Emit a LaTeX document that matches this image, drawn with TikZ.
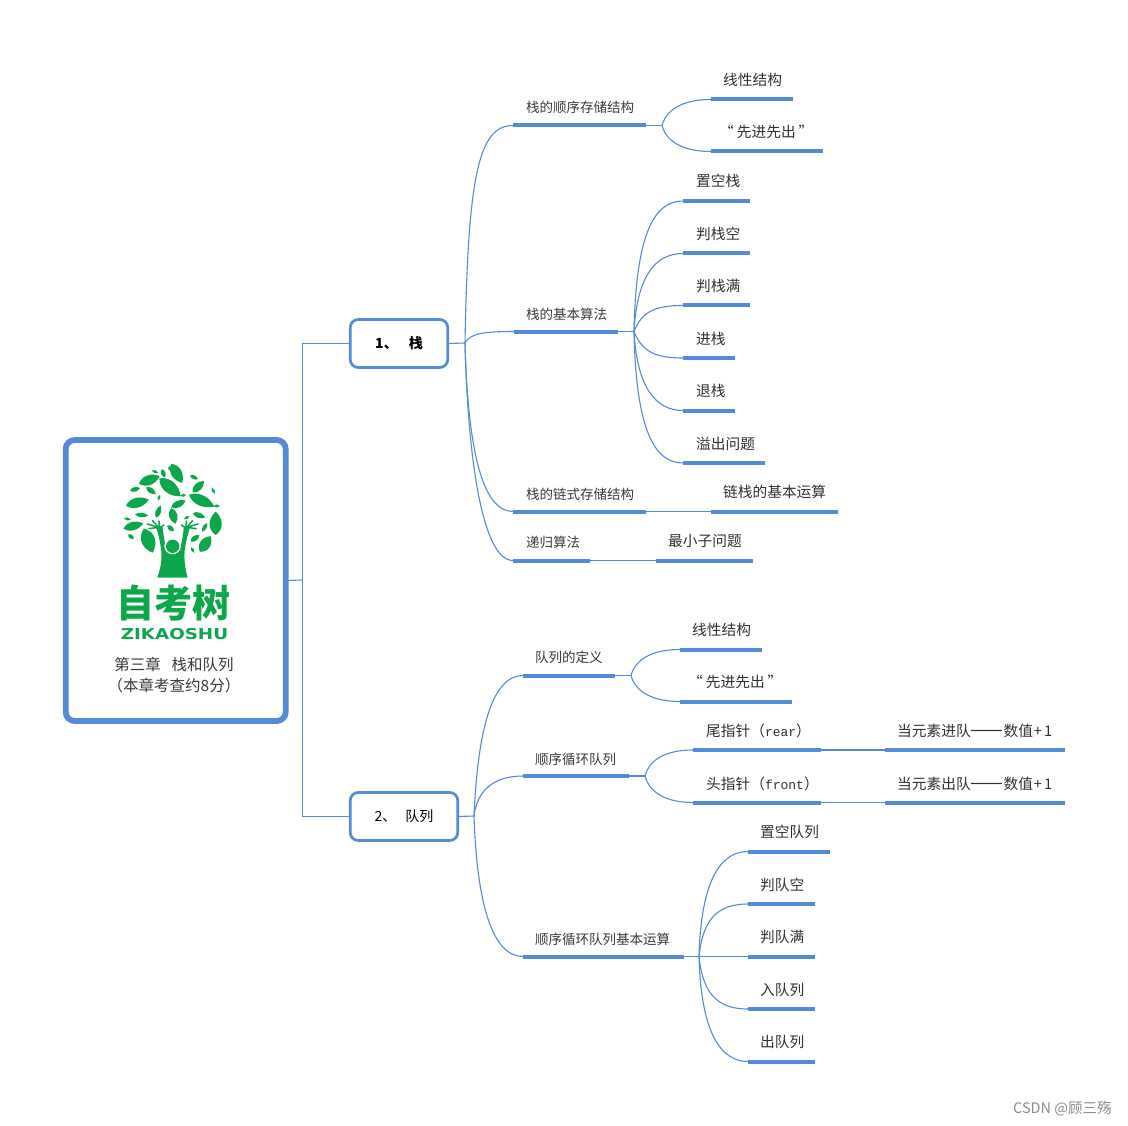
\documentclass[tikz,border=0pt]{standalone}
\usepackage{fontspec}
\setmainfont{Noto Sans CJK SC}
\newfontfamily\latmono{Liberation Mono}
\newfontfamily\logolat{DejaVu Sans}
\definecolor{mapblue}{HTML}{558BD6}
\definecolor{logogreen}{HTML}{0BA74A}
\definecolor{txt}{HTML}{3A3A3A}
\tikzset{
  rootbox/.style={draw=mapblue,line width=5.8pt,rounded corners=9pt,fill=white,inner sep=0pt,outer sep=0pt,minimum width=220pt,minimum height=281pt},
  mainbox/.style={draw=mapblue,line width=2.7pt,rounded corners=8pt,fill=white,inner sep=0pt,outer sep=0pt,minimum height=48pt,text=black,font=\fontsize{14}{16}\selectfont},
  barnode/.style={fill=mapblue,inner sep=0pt,outer sep=0pt,minimum height=4pt},
  lblA/.style={anchor=west,inner sep=0pt,text=txt,font=\fontsize{13.5}{16}\selectfont},
  lblB/.style={anchor=west,inner sep=0pt,text=txt!85!black,font=\fontsize{14.7}{17}\selectfont},
  link/.style={draw=mapblue,line width=1.1pt},
  leaffill/.style={fill=logogreen,draw=none}
}
\newcommand{\topicA}[7]{%
  \pgfmathsetmacro{\barw}{#3-#2}%
  \node[barnode,minimum width=\barw pt] (#1) at ({(#2+#3)/2},#4) {};%
  \node[lblA] (#1t) at (#5,#6) {#7};}
\newcommand{\topicB}[7]{%
  \pgfmathsetmacro{\barw}{#3-#2}%
  \node[barnode,minimum width=\barw pt] (#1) at ({(#2+#3)/2},#4) {};%
  \node[lblB] (#1t) at (#5,#6) {#7};}
\newcommand{\leaf}[5]{%
  \fill[leaffill,shift={(#1,#2)},rotate=#5]
    ({-1.1*#3},0) .. controls ({-0.5*#3},{1.7*#4}) and ({0.5*#3},{1.35*#4}) .. ({1.1*#3},0)
    .. controls ({0.5*#3},{-1.35*#4}) and ({-0.5*#3},{-1.7*#4}) .. ({-1.1*#3},0) -- cycle;}
\newcommand{\longdash}{{\fontsize{19.6}{17}\selectfont ——}}
\newcommand{\plusone}{\hspace{1pt}+\hspace{2pt}1}
\begin{document}
\begin{tikzpicture}[x=1pt,y=-1pt]
\useasboundingbox (0,0) rectangle (1128,1126);
\fill[white] (0,0) rectangle (1128,1126);

% main boxes
\node[rootbox] (root) at (175.7,580.5) {};
\node[mainbox,minimum width=97.5pt] (one) at (399,343.5) {\textbf{1、\hspace{11pt}栈}};
\node[mainbox,minimum width=107.5pt] (two) at (404,816.5) {2、\hspace{9pt}队列};
\coordinate (rootj) at (302.5,580);
\draw[link] (one.west) -| (rootj) |- (two.west);
\draw[link] (root.east) -- (rootj);

% logo
\begin{scope}[shift={(50,430)},x=0.3333pt,y=-0.3333pt]
\foreach \a/\b/\c/\d/\e in {
 380/130/30/14/-60, 298/150/30/13/20, 315/125/10/4/-20, 340/130/12/6/-70, 358/115/7/3/-90,
 432/142/12/5/-25, 445/170/22/10/45, 490/182/10/4/-60, 255/178/14/6/15, 303/182/16/7/-35,
 360/172/38/16/-40, 400/196/8/4/10, 327/203/8/4/70, 262/218/32/13/15, 455/212/38/14/-25,
 385/222/22/9/25, 500/228/9/4/0, 325/245/18/7/70, 370/258/22/11/-75, 447/256/18/7/-20,
 410/263/9/4/30, 275/255/18/6/-5, 232/267/10/4/-10, 497/280/32/16/90, 250/288/28/11/15,
 362/295/12/6/-40, 464/292/14/5/60, 243/320/10/5/-40, 295/332/35/18/-70, 435/325/15/7/35,
 466/342/26/14/55, 428/360/9/4/-60}{\leaf{\a}{\b}{\c}{\d}{\e}}
\fill[leaffill] (322,443) .. controls (333,410) and (338,385) .. (332,350)
  .. controls (329,330) and (325,310) .. (318,292) -- (337,288)
  .. controls (340,310) and (343,335) .. (348,350) -- (392,350)
  .. controls (396,335) and (400,310) .. (402,288) -- (420,292)
  .. controls (413,315) and (408,335) .. (404,360)
  .. controls (402,390) and (405,415) .. (413,443) -- cycle;
\fill[white] (368,348) circle (25);
\fill[leaffill] (368,349) circle (20);
\foreach \sx/\sy/\tx/\ty in {325/292/292/282, 325/292/297/296, 325/292/308/272, 328/292/327/273, 328/295/342/285,
  411/292/444/282, 411/292/439/296, 411/292/428/272, 408/292/409/273, 408/295/394/285}
  {\draw[logogreen,line width=1.5pt,line cap=round] (\sx,\sy) -- (\tx,\ty);}
\end{scope}
\node[inner sep=0pt,text=logogreen,font=\fontsize{38}{40}\selectfont\bfseries] (logocn) at (173.7,603.5) {自考树};
\node[inner sep=0pt,text=logogreen,font=\fontsize{15}{18}\logolat\bfseries,xscale=1.22,transform shape] (logoen) at (174.5,634.5) {ZIKAOSHU};
\node[inner sep=0pt,text=txt,font=\fontsize{15.5}{18}\selectfont] (roota) at (174,664.5) {第三章\hspace{11pt}栈和队列};
\node[inner sep=0pt,text=txt,font=\fontsize{15.5}{18}\selectfont] (rootb) at (174,685.5) {（本章考查约8分）};

% stack branch
\coordinate (oj) at (465,343);
\draw[link] (one.east) -- (oj);
\topicA{sa}{513}{646}{125.5}{526}{107}{栈的顺序存储结构}
\topicA{sb}{514}{618}{331.5}{526}{314}{栈的基本算法}
\topicA{sc}{513}{646}{511.5}{526}{494}{栈的链式存储结构}
\topicA{sd}{513}{590}{560.5}{526}{542}{递归算法}
\draw[link] (oj) .. controls +(3,-165) and +(-35,0) .. (sa.west);
\draw[link] (oj) .. controls +(5,-10) and +(-28,0) .. (sb.west);
\draw[link] (oj) .. controls +(3,110) and +(-30,0) .. (sc.west);
\draw[link] (oj) .. controls +(3,120) and +(-30,0) .. (sd.west);

\coordinate (saj) at (662,125.5);
\draw[link] (sa.east) -- (saj);
\topicB{saa}{711}{793}{99.5}{723}{80}{线性结构}
\topicB{sab}{711}{823}{151.5}{719}{132}{“\hspace{3pt}先进先出\hspace{3pt}”}
\draw[link] (saj) .. controls +(5,-18) and +(-25,0) .. (saa.west);
\draw[link] (saj) .. controls +(5,18) and +(-25,0) .. (sab.west);

\coordinate (sbj) at (634,331.5);
\draw[link] (sb.east) -- (sbj);
\topicB{sba}{683}{750}{201}{696}{181}{置空栈}
\topicB{sbb}{683}{750}{253.5}{696}{234}{判栈空}
\topicB{sbc}{683}{750}{305.5}{696}{286}{判栈满}
\topicB{sbd}{683}{735}{358}{696}{339}{进栈}
\topicB{sbe}{683}{735}{410.5}{696}{391}{退栈}
\topicB{sbf}{683}{765}{463}{696}{444}{溢出问题}
\foreach \n/\px/\cy in {sba/2/-100,sbb/3/-55,sbc/8/-20,sbd/8/20,sbe/3/55,sbf/2/100}
  {\draw[link] (sbj) .. controls +(\px,\cy) and +(-28,0) .. (\n.west);}

\topicB{sca}{711}{838}{511.5}{723}{492}{链栈的基本运算}
\draw[link] (sc.east) -- (sca.west);
\topicB{sda}{656}{753}{560.5}{668}{541}{最小子问题}
\draw[link] (sd.east) -- (sda.west);

% queue branch
\coordinate (tj) at (474,816);
\draw[link] (two.east) -- (tj);
\topicA{qa}{523}{615}{675.5}{535}{657}{队列的定义}
\topicA{qb}{523}{629}{776}{535}{759}{顺序循环队列}
\topicA{qc}{523}{684}{956.5}{535}{939}{顺序循环队列基本运算}
\draw[link] (tj) .. controls +(4,-90) and +(-30,0) .. (qa.west);
\draw[link] (tj) .. controls +(3,-25) and +(-30,0) .. (qb.west);
\draw[link] (tj) .. controls +(3,90) and +(-30,0) .. (qc.west);

\coordinate (qaj) at (631,675.5);
\draw[link] (qa.east) -- (qaj);
\topicB{qaa}{680}{762}{649.5}{692}{630}{线性结构}
\topicB{qab}{680}{792}{701.5}{688}{681.5}{“\hspace{3pt}先进先出\hspace{3pt}”}
\draw[link] (qaj) .. controls +(5,-18) and +(-25,0) .. (qaa.west);
\draw[link] (qaj) .. controls +(5,18) and +(-25,0) .. (qab.west);

\coordinate (qbj) at (645,776);
\draw[link] (qb.east) -- (qbj);
\topicB{qba}{693}{821}{750}{706}{731}{尾指针（{\latmono\fontsize{13}{16}\selectfont rear}）}
\topicB{qbb}{693}{821}{802.5}{706}{784}{头指针（{\latmono\fontsize{13}{16}\selectfont front}）}
\draw[link] (qbj) .. controls +(5,-18) and +(-25,0) .. (qba.west);
\draw[link] (qbj) .. controls +(5,18) and +(-25,0) .. (qbb.west);
\topicB{qbaa}{885}{1065}{750}{897}{731}{当元素进队\longdash 数值\plusone}
\topicB{qbba}{885}{1065}{802.5}{897}{784}{当元素出队\longdash 数值\plusone}
\draw[link] (qba.east) -- (qbaa.west);
\draw[link] (qbb.east) -- (qbba.west);

\coordinate (qcj) at (699,956.5);
\draw[link] (qc.east) -- (qcj);
\topicB{qca}{748}{830}{851.5}{760}{832}{置空队列}
\topicB{qcb}{748}{815}{904}{760}{885}{判队空}
\topicB{qcc}{748}{815}{956.5}{760}{937}{判队满}
\topicB{qcd}{748}{815}{1009}{760}{990}{入队列}
\topicB{qce}{748}{815}{1061.5}{760}{1042}{出队列}
\foreach \n/\px/\cy in {qca/2/-75,qcb/4/-40,qcd/4/40,qce/2/75}
  {\draw[link] (qcj) .. controls +(\px,\cy) and +(-28,0) .. (\n.west);}
\draw[link] (qcj) -- (qcc.west);

% watermark
\node[anchor=west,inner sep=0pt,text=black!45,font=\fontsize{14.5}{16}\selectfont] (mark) at (1013,1108.5) {CSDN @顾三殇};
\end{tikzpicture}
\end{document}
